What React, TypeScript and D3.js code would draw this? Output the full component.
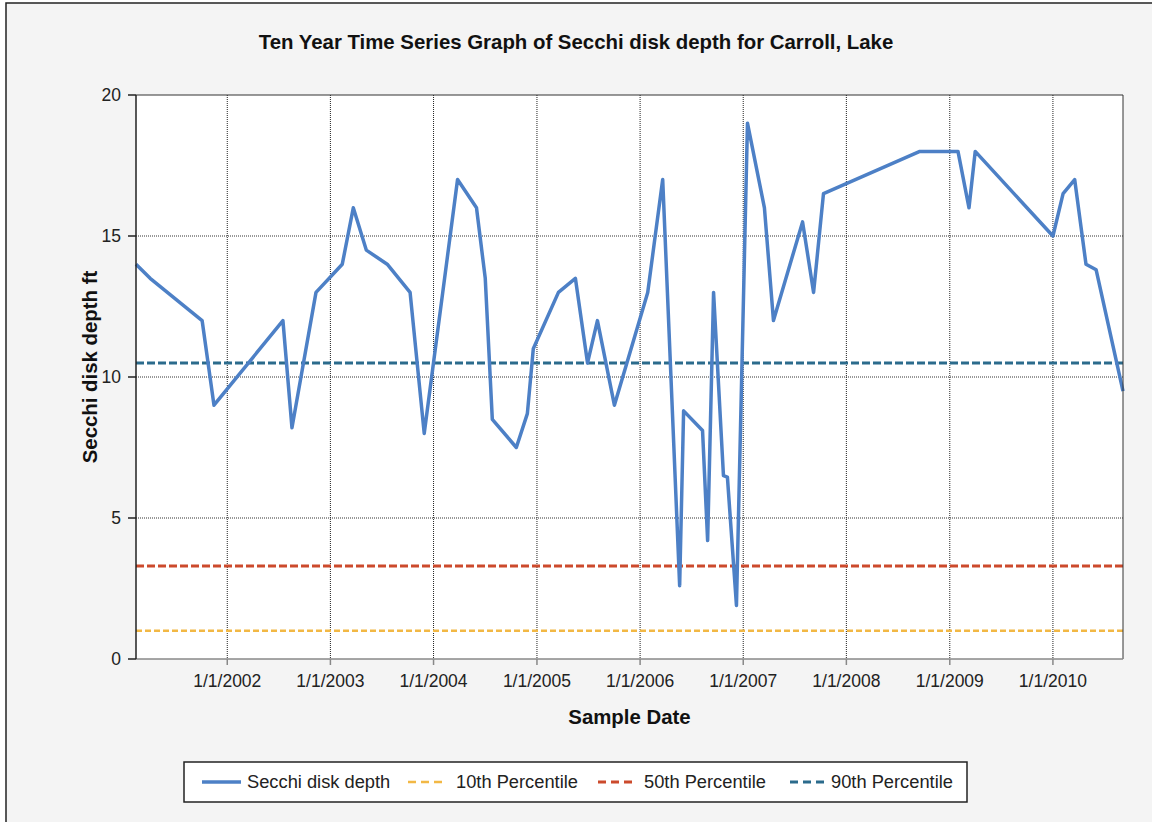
import React from "react";
import * as d3 from "d3";

const sampleDates: string[] = [
  "2001-02-12", "2001-04-03", "2001-10-04", "2001-11-15", "2002-07-17", "2002-08-18",
  "2002-11-11", "2003-02-12", "2003-03-23", "2003-05-08", "2003-07-21", "2003-10-10",
  "2003-11-29", "2004-03-26", "2004-06-01", "2004-07-02", "2004-07-27", "2004-10-20",
  "2004-11-28", "2004-12-19", "2005-03-18", "2005-05-17", "2005-06-29", "2005-08-03",
  "2005-10-02", "2006-01-28", "2006-03-22", "2006-05-21", "2006-06-04", "2006-08-10",
  "2006-08-28", "2006-09-18", "2006-10-23", "2006-11-06", "2006-12-08", "2007-01-16",
  "2007-03-17", "2007-04-18", "2007-07-30", "2007-09-07", "2007-10-12", "2008-09-17",
  "2009-01-30", "2009-03-10", "2009-04-01", "2010-01-01", "2010-02-06", "2010-03-19",
  "2010-04-28", "2010-06-03", "2010-09-06",
];
const secchiDepth: number[] = [
  14, 13.5, 12, 9, 12, 8.2,
  13, 14, 16, 14.5, 14, 13,
  8, 17, 16, 13.5, 8.5, 7.5,
  8.7, 11, 13, 13.5, 10.5, 12,
  9, 13, 17, 2.6, 8.8, 8.1,
  4.2, 13, 6.5, 6.45, 1.9, 19,
  16, 12, 15.5, 13, 16.5, 18,
  18, 16, 18, 15, 16.5, 17,
  14, 13.8, 9.5,
];
const percentileNames: string[] = ["10th Percentile", "50th Percentile", "90th Percentile"];
const percentileValues: number[] = [1.0, 3.3, 10.5];
const yTicks: number[] = [0, 5, 10, 15, 20];
const xTickYears: number[] = [2002, 2003, 2004, 2005, 2006, 2007, 2008, 2009, 2010];

const percentileColors = ["#f2b845", "#cc4a2c", "#2b6b8c"];
const lineColor = "#4d80c6";

export default function App() {
  const W = 1152, H = 822;
  const left = 136, right = 1123, top = 95, bottom = 659;
  const parse = d3.timeParse("%Y-%m-%d");
  const data = sampleDates.map((d, i) => ({ date: parse(d) as Date, v: secchiDepth[i] }));
  const x = d3.scaleTime().domain(d3.extent(data, (d) => d.date) as [Date, Date]).range([left, right]);
  const y = d3.scaleLinear().domain([0, 20]).range([bottom, top]);
  const line = d3.line<{ date: Date; v: number }>().x((d) => x(d.date)).y((d) => y(d.v));
  const font = "Arial, 'Liberation Sans', sans-serif";
  const xTicks = xTickYears.map((yr) => new Date(yr, 0, 1));
  const fmt = d3.timeFormat("%-m/%-d/%Y");

  const legendY = 782;
  const legendItems = [
    { label: "Secchi disk depth", color: lineColor, dash: "none", w: 3.5, x0: 202, x1: 241, tx: 247 },
    { label: percentileNames[0], color: percentileColors[0], dash: "8 5", w: 2.5, x0: 408, x1: 442, tx: 456 },
    { label: percentileNames[1], color: percentileColors[1], dash: "8 5", w: 3, x0: 598, x1: 632, tx: 644 },
    { label: percentileNames[2], color: percentileColors[2], dash: "8 5", w: 3, x0: 790, x1: 824, tx: 831 },
  ];

  return (
    <div style={{ position: "absolute", left: 0, top: 0 }}>
      <svg width={W} height={H} style={{ display: "block" }}>
        <rect x={0} y={0} width={W} height={H} fill="#ffffff" />
        <rect x={6} y={3} width={W + 10} height={H + 10} fill="#f4f4f4" stroke="#222" strokeWidth={1.5} />
        <text x={576} y={49} textAnchor="middle" fontFamily={font} fontWeight="bold" fontSize={20.4} fill="#111">
          Ten Year Time Series Graph of Secchi disk depth for Carroll, Lake
        </text>
        <rect x={left} y={top} width={right - left} height={bottom - top} fill="#ffffff" />
        {yTicks.filter((t) => t > 0 && t < 20).map((t) => (
          <line key={"gy" + t} x1={left} x2={right} y1={y(t)} y2={y(t)} stroke="#333" strokeWidth={1} strokeDasharray="1 1" />
        ))}
        {xTicks.map((t, i) => (
          <line key={"gx" + i} x1={x(t)} x2={x(t)} y1={top} y2={bottom} stroke="#222" strokeWidth={1} strokeDasharray="1 1" />
        ))}
        {percentileValues.map((v, i) => (
          <line key={"p" + i} x1={left} x2={right} y1={y(v)} y2={y(v)} stroke={percentileColors[i]}
            strokeWidth={i === 0 ? 2.5 : 3} strokeDasharray={i === 0 ? "6 3" : "8 3"} />
        ))}
        <path d={line(data) || ""} fill="none" stroke={lineColor} strokeWidth={3.5} strokeLinejoin="round" />
        <line x1={left} x2={right} y1={top} y2={top} stroke="#333" strokeWidth={1} />
        <line x1={right} x2={right} y1={top} y2={bottom} stroke="#333" strokeWidth={1} />
        <line x1={left} x2={right} y1={bottom} y2={bottom} stroke="#888" strokeWidth={1.5} />
        <line x1={left} x2={left} y1={top} y2={bottom} stroke="#222" strokeWidth={1.5} />
        {yTicks.map((t) => (
          <g key={"yt" + t}>
            <line x1={left - 8} x2={left} y1={y(t)} y2={y(t)} stroke="#222" strokeWidth={1.5} />
            <text x={left - 15} y={y(t) + 6} textAnchor="end" fontFamily={font} fontSize={17.5} fill="#222">{t}</text>
          </g>
        ))}
        {xTicks.map((t, i) => (
          <g key={"xt" + i}>
            <line x1={x(t)} x2={x(t)} y1={bottom} y2={bottom + 6} stroke="#888" strokeWidth={1.5} />
            <text x={x(t)} y={bottom + 28} textAnchor="middle" fontFamily={font} fontSize={17.5} fill="#222">{fmt(t)}</text>
          </g>
        ))}
        <text x={(left + right) / 2} y={724} textAnchor="middle" fontFamily={font} fontWeight="bold" fontSize={20.4} fill="#111">Sample Date</text>
        <text transform={`translate(97,${(top + bottom) / 2 - 10}) rotate(-90)`} textAnchor="middle" fontFamily={font} fontWeight="bold" fontSize={20.4} fill="#111">Secchi disk depth ft</text>
        <rect x={184} y={762} width={783} height={40} fill="#ffffff" stroke="#222" strokeWidth={1.5} />
        {legendItems.map((it, i) => (
          <g key={"lg" + i}>
            <line x1={it.x0} x2={it.x1} y1={legendY} y2={legendY} stroke={it.color} strokeWidth={it.w} strokeDasharray={it.dash} />
            <text x={it.tx} y={legendY + 6} fontFamily={font} fontSize={18.3} fill="#222">{it.label}</text>
          </g>
        ))}
      </svg>
    </div>
  );
}
